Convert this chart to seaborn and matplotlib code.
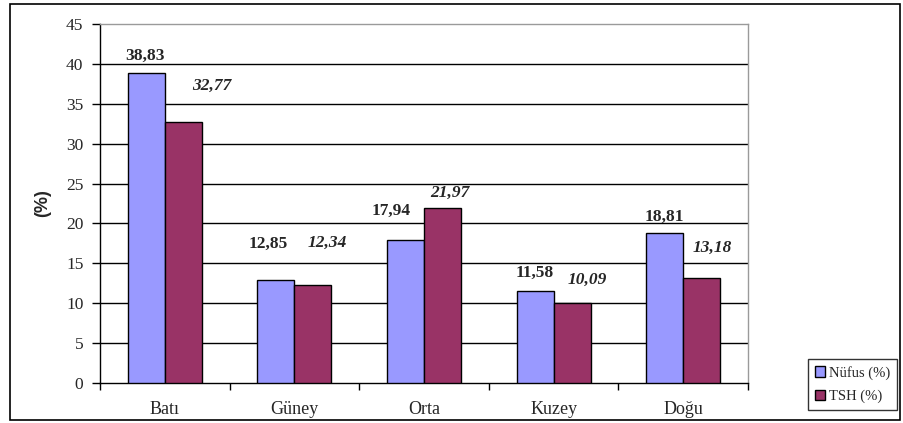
import matplotlib
matplotlib.use("Agg")
import matplotlib.pyplot as plt
import matplotlib.patches as mpatches
import numpy as np
import pandas as pd
import seaborn as sns

# veriler
bolgeler = ["Batı", "Güney", "Orta", "Kuzey", "Doğu"]
nufus = [38.83, 12.85, 17.94, 11.58, 18.81]
tsh = [32.77, 12.34, 21.97, 10.09, 13.18]
seriler = ["Nüfus (%)", "TSH (%)"]
renkler = ["#9999FF", "#993366"]

# etiket kaydirmalari (piksel) - Excel'de elle yerlestirilmis
nufus_ofset = [(-1, 17), (-8, 37), (-14, 29), (0, 18), (0, 16)]
tsh_ofset = [(29, 36), (14, 42), (7, 15), (15, 23), (11, 30)]

sns.set_theme(style="white")
plt.rcParams["font.family"] = ["Liberation Serif", "DejaVu Serif"]

df = pd.DataFrame({
    "Bolge": bolgeler * 2,
    "Deger": nufus + tsh,
    "Seri": [seriler[0]] * len(bolgeler) + [seriler[1]] * len(bolgeler),
})

fig = plt.figure(figsize=(9.04, 4.23), dpi=100)
ax = fig.add_axes([100 / 904, 40 / 423, 648 / 904, 359 / 423])

sns.barplot(data=df, x="Bolge", y="Deger", hue="Seri", palette=renkler,
            saturation=1, width=0.57, edgecolor="black", linewidth=1.0, ax=ax,
            legend=False, errorbar=None, zorder=3)

ax.set_ylim(0, 45)
ax.set_xlim(-0.5, len(bolgeler) - 0.5)
ax.set_yticks(np.arange(0, 46, 5))
ax.tick_params(axis="y", direction="out", length=6, width=1, color="black",
               labelsize=12.5, pad=6, left=True)
ax.set_xticks(np.arange(len(bolgeler)))
ax.set_xticklabels(bolgeler, fontsize=13)
ax.set_xticks(np.arange(-0.5, len(bolgeler)), minor=True)
ax.tick_params(axis="x", which="major", length=0, pad=13)
ax.tick_params(axis="x", which="minor", direction="out", length=5, width=1,
               color="black", bottom=True)
ax.set_xlabel("")
ax.set_ylabel("")

for y in range(5, 45, 5):
    ax.axhline(y, color="black", lw=1.0, zorder=1)

for s in ["left", "bottom"]:
    ax.spines[s].set_color("black")
    ax.spines[s].set_linewidth(1.0)
for s in ["top", "right"]:
    ax.spines[s].set_color("#9a9a9a")
    ax.spines[s].set_linewidth(1.0)

# veri etiketleri
bars = ax.patches
n = len(bolgeler)
for i in range(n):
    b = bars[i]
    ax.annotate(f"{nufus[i]:.2f}".replace(".", ","),
                (b.get_x() + b.get_width() / 2, b.get_height()),
                xytext=nufus_ofset[i], textcoords="offset pixels",
                ha="center", va="center", fontsize=12.5, fontweight="bold")
    b = bars[n + i]
    ax.annotate(f"{tsh[i]:.2f}".replace(".", ","),
                (b.get_x() + b.get_width() / 2, b.get_height()),
                xytext=tsh_ofset[i], textcoords="offset pixels",
                ha="center", va="center", fontsize=12.5, fontweight="bold",
                fontstyle="italic")

fig.text(43 / 904, 1 - 203 / 423, "(%)", rotation=90, ha="center", va="center",
         fontsize=13, fontweight="bold", family="Liberation Sans")

handles = [mpatches.Patch(facecolor=c, edgecolor="black", lw=1) for c in renkler]
leg = fig.legend(handles, seriler, loc="lower left",
                 bbox_to_anchor=(808 / 904, 13 / 423), fontsize=10.5,
                 frameon=True, fancybox=False, handlelength=0.7,
                 handleheight=0.7, handletextpad=0.3, borderpad=0.45,
                 labelspacing=0.7, borderaxespad=0)
leg.get_frame().set_edgecolor("black")
leg.get_frame().set_linewidth(1.0)

fig.patches.append(mpatches.Rectangle((10 / 904, 3 / 423), 890 / 904, 416 / 423,
                                      fill=False, edgecolor="black", lw=1.2,
                                      transform=fig.transFigure, figure=fig))

fig.savefig("out.png", dpi=100)
